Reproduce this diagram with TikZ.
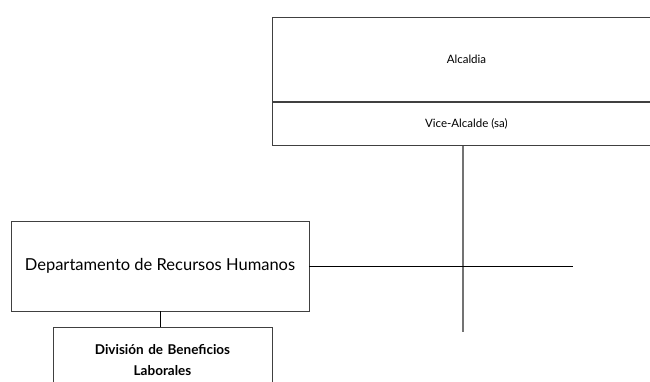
\documentclass[tikz,border=0pt]{standalone}
\usepackage{fontspec}
\setmainfont{Lato}
\usetikzlibrary{positioning}
\usetikzlibrary{calc}

\begin{document}
\begin{tikzpicture}[x=1pt,y=1pt,
  unitbox/.style={draw=black!75, line width=0.9pt, inner sep=2pt, align=center, font=\fontsize{11.5}{13}\selectfont},
  hline/.style={black, line width=0.9pt},
  vline/.style={black!55, line width=1.3pt}]
\useasboundingbox (0,0) rectangle (650,381);
\clip (0,0) rectangle (650,381);

\node[unitbox, minimum width=388, minimum height=84, anchor=north west] (alcaldia) at (272,364) {Alcaldia};
\node[unitbox, minimum width=388, minimum height=43, anchor=north, below=0 of alcaldia] (vice) {Vice-Alcalde (sa)};
\node[unitbox, minimum width=298, minimum height=90, font=\fontsize{16.5}{19}\selectfont] (rrhh) at (160,115) {Departamento de Recursos Humanos};
\node[unitbox, minimum width=219, minimum height=66, anchor=north, text width=210, font=\fontsize{13.5}{21}\selectfont\bfseries] (beneficios) at (162.5,54) {División de Beneficios\\Laborales};

\coordinate (vtop) at (463,0 |- vice.south);
\coordinate (vbot) at (463,49);
\coordinate (hend) at (573,0 |- rrhh.east);

\draw[vline] (vtop) -- (vbot);
\draw[hline] (rrhh.east) -- (hend);
\draw[hline] (rrhh.south) -- (rrhh.south |- beneficios.north);
\end{tikzpicture}
\end{document}
